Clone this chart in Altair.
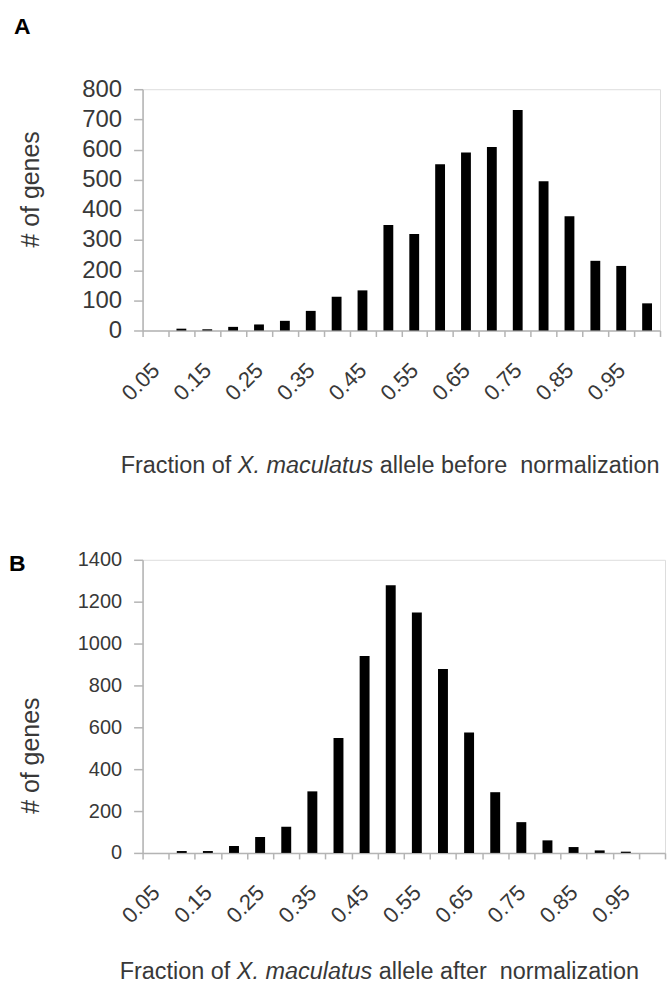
import json
import altair as alt
import pandas as pd

# ---------------- data ----------------
bins = ["0.05", "0.10", "0.15", "0.20", "0.25", "0.30", "0.35", "0.40", "0.45", "0.50",
        "0.55", "0.60", "0.65", "0.70", "0.75", "0.80", "0.85", "0.90", "0.95", "1.00"]
shown_labels = ["0.05", "0.15", "0.25", "0.35", "0.45", "0.55", "0.65", "0.75", "0.85", "0.95"]
counts_before = [0, 6, 4, 12, 20, 32, 65, 112, 133, 350,
                 320, 551, 590, 608, 731, 495, 379, 231, 214, 90]
counts_after = [0, 9, 9, 33, 76, 125, 294, 549, 941, 1279,
                1148, 879, 575, 290, 147, 60, 28, 12, 6, 0]
y_ticks_before = [0, 100, 200, 300, 400, 500, 600, 700, 800]
y_ticks_after = [0, 200, 400, 600, 800, 1000, 1200, 1400]

FONT = "Liberation Sans"
TXT = "#383838"
AXC = "#b4b4b4"

# Arial / Liberation Sans advance widths (per 1000 em) for title layout
W = {"F": 611, "r": 333, "a": 556, "c": 500, "t": 278, "i": 222, "o": 556, "n": 556,
     " ": 278, "f": 278, "X": 667, ".": 278, "m": 833, "u": 556, "l": 222, "s": 500,
     "e": 556, "b": 556, "z": 500}


def tw(s, fs):
    return sum(W[c] for c in s) / 1000.0 * fs


def txt(text, x, y, size, align="left", baseline="middle", weight="normal",
        style="normal", color=TXT):
    return alt.Chart(alt.Data(values=[{}])).mark_text(
        text=text, align=align, baseline=baseline, font=FONT, fontSize=size,
        fontWeight=weight, fontStyle=style, color=color
    ).encode(x=alt.value(x), y=alt.value(y))


label_expr = "indexof(" + json.dumps(shown_labels) + ", datum.label) >= 0 ? datum.label : ''"


def panel(counts, yticks, letter, word, width, height, ylab_fs, ytitle_y,
          letter_xy, xtitle_x, xtitle_y):
    df = pd.DataFrame({"bin": bins, "count": counts})
    bars = alt.Chart(df).mark_bar(
        color="black", width=alt.RelativeBandSize(0.38)
    ).encode(
        x=alt.X("bin:N", sort=bins, title=None,
                scale=alt.Scale(domain=bins, paddingInner=0, paddingOuter=0),
                axis=alt.Axis(tickBand="extent", tickSize=6, tickColor=AXC, tickWidth=1.5,
                              domainColor=AXC, domainWidth=1.5, labelAngle=-45,
                              labelAlign="right", labelBaseline="middle", labelPadding=30,
                              labelFontSize=22, labelFont=FONT, labelColor=TXT,
                              labelOverlap=False, labelExpr=label_expr, grid=False)),
        y=alt.Y("count:Q", title="# of genes",
                scale=alt.Scale(domain=[yticks[0], yticks[-1]], nice=False),
                axis=alt.Axis(values=yticks, format="d", tickSize=9, tickColor=AXC,
                              tickWidth=1.5, domainColor=AXC, domainWidth=1.5,
                              labelFontSize=ylab_fs, labelFont=FONT, labelColor=TXT,
                              labelPadding=12, grid=False,
                              titleFont=FONT, titleFontSize=25, titleFontWeight="normal",
                              titleColor=TXT, titleX=-112, titleY=ytitle_y,
                              titleBaseline="middle", titleAlign="center")),
    )
    fs = 23.5
    x0 = xtitle_x
    x1 = x0 + tw("Fraction of ", fs)
    x2 = x1 + tw("X. maculatus ", fs)
    layers = [
        bars,
        txt(letter, letter_xy[0], letter_xy[1], 23, baseline="top", weight="bold", color="black"),
        txt("Fraction of", x0, xtitle_y, fs),
        txt("X. maculatus", x1, xtitle_y, fs, style="italic"),
        txt("allele " + word + "\u00a0 normalization", x2, xtitle_y, fs),
    ]
    return alt.layer(*layers).properties(width=width, height=height)


panel_a = panel(counts_before, y_ticks_before, "A", "before", 519, 242, 24, 100,
                (-129, -73), -22, 378)
panel_b = panel(counts_after, y_ticks_after, "B", "after", 524, 294, 20, 196,
                (-134, -7), -23, 413)

chart = alt.vconcat(panel_a, panel_b, spacing=230).properties(
    bounds="flush",
    padding={"left": 8, "top": 14, "right": 0, "bottom": 0},
).configure_view(stroke=None).configure(background="white")

chart.save("out.html", embed_options={"renderer": "svg", "actions": False})
